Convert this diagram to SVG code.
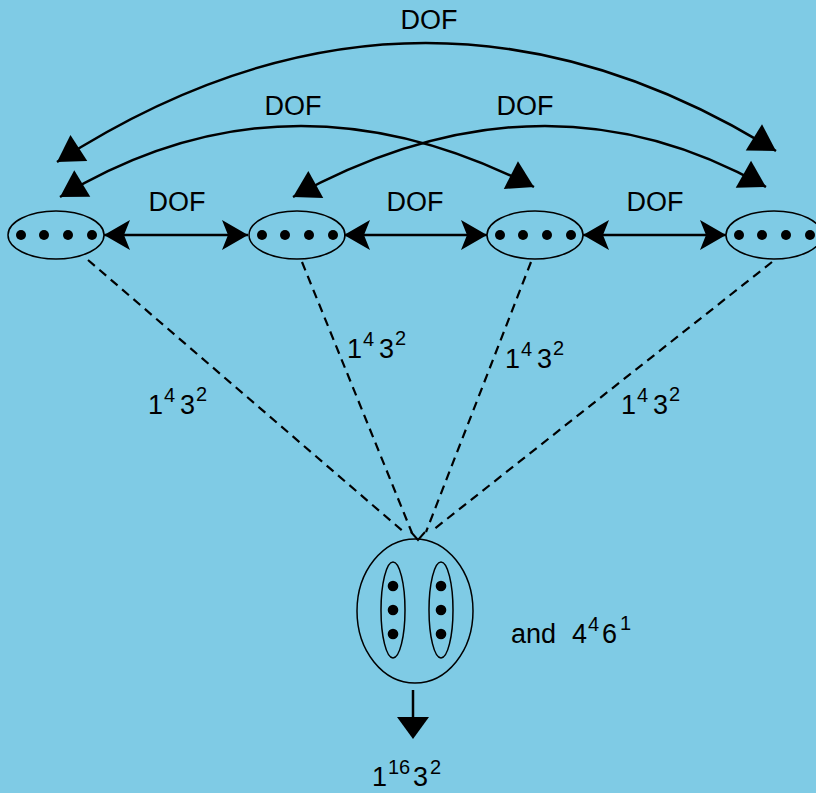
<svg xmlns="http://www.w3.org/2000/svg" width="816" height="793" viewBox="0 0 816 793">
<style>
text{font-family:"Liberation Sans",Arial,sans-serif;fill:#000;}
.lbl{font-size:27px;text-anchor:middle;}
.m{font-size:27px;}
.s{font-size:20px;}
.ell{fill:none;stroke:#000;stroke-width:1.5;}
.dot{fill:#000;}
.arc{fill:none;stroke:#000;stroke-width:2.5;marker-start:url(#tri);marker-end:url(#tri);}
.harr{fill:none;stroke:#000;stroke-width:2.5;marker-start:url(#notch);marker-end:url(#notch);}
.dash{fill:none;stroke:#000;stroke-width:2.2;stroke-dasharray:9,6;}
</style>
<defs>
<marker id="tri" markerUnits="userSpaceOnUse" viewBox="-27 -17 29 34" markerWidth="29" markerHeight="34" refX="0" refY="0" orient="auto-start-reverse">
<path d="M0,0 L-26,-15.5 L-26,15.5 Z" fill="#000"/>
</marker>
<marker id="notch" markerUnits="userSpaceOnUse" viewBox="-27 -16 29 32" markerWidth="29" markerHeight="32" refX="0" refY="0" orient="auto-start-reverse">
<path d="M0,0 L-26,-15 L-20,0 L-26,15 Z" fill="#000"/>
</marker>
</defs>
<rect x="0" y="0" width="816" height="793" fill="#7FCBE5"/>

<g id="connectors">
<path class="arc" d="M57,162 Q417.5,-70.5 776,151"/>
<path class="arc" d="M60,197 Q287,60 534,187"/>
<path class="arc" d="M293,197 Q542.5,60 766,187"/>
<path class="harr" d="M104,235 L248,235"/>
<path class="harr" d="M344,235 L487,235"/>
<path class="harr" d="M583,235 L726,235"/>
<path class="dash" d="M88,260 L405,533"/>
<path class="dash" d="M302,262 L412,533"/>
<path class="dash" d="M531,262 L426,532"/>
<path class="dash" d="M772,262 L433,530"/>
<polyline points="411,532 418,540 425,532" fill="none" stroke="#000" stroke-width="2"/>
<path d="M413,690 L413,718" stroke="#000" stroke-width="2.5" fill="none"/>
<path d="M397,717 L429,717 L413,739 Z" fill="#000"/>
</g>

<g id="labels-dof">
<text class="lbl" x="429" y="29">DOF</text>
<text class="lbl" x="293" y="115">DOF</text>
<text class="lbl" x="525" y="115">DOF</text>
<text class="lbl" x="177" y="211">DOF</text>
<text class="lbl" x="415" y="211">DOF</text>
<text class="lbl" x="655" y="211">DOF</text>
</g>

<g id="node1">
<ellipse class="ell" cx="56" cy="235" rx="48" ry="24"/>
<circle class="dot" cx="21" cy="235" r="5"/><circle class="dot" cx="44" cy="235" r="5"/><circle class="dot" cx="68" cy="235" r="5"/><circle class="dot" cx="92" cy="235" r="5"/>
</g>
<g id="node2">
<ellipse class="ell" cx="297" cy="235" rx="48" ry="24"/>
<circle class="dot" cx="262" cy="235" r="5"/><circle class="dot" cx="285" cy="235" r="5"/><circle class="dot" cx="309" cy="235" r="5"/><circle class="dot" cx="333" cy="235" r="5"/>
</g>
<g id="node3">
<ellipse class="ell" cx="535" cy="235" rx="48" ry="24"/>
<circle class="dot" cx="500" cy="235" r="5"/><circle class="dot" cx="523" cy="235" r="5"/><circle class="dot" cx="547" cy="235" r="5"/><circle class="dot" cx="571" cy="235" r="5"/>
</g>
<g id="node4">
<ellipse class="ell" cx="774" cy="235" rx="48" ry="24"/>
<circle class="dot" cx="739" cy="235" r="5"/><circle class="dot" cx="762" cy="235" r="5"/><circle class="dot" cx="786" cy="235" r="5"/><circle class="dot" cx="810" cy="235" r="5"/>
</g>

<g id="node-bottom">
<ellipse class="ell" cx="415" cy="611" rx="58" ry="72"/>
<ellipse class="ell" cx="393" cy="610" rx="12" ry="48"/>
<ellipse class="ell" cx="441" cy="610" rx="12" ry="48"/>
<circle class="dot" cx="393" cy="586" r="5.3"/><circle class="dot" cx="393" cy="610" r="5.3"/><circle class="dot" cx="393" cy="634" r="5.3"/>
<circle class="dot" cx="441" cy="586" r="5.3"/><circle class="dot" cx="441" cy="610" r="5.3"/><circle class="dot" cx="441" cy="634" r="5.3"/>
</g>

<g id="labels-14">
<text><tspan class="m" x="148" y="414">1</tspan><tspan class="s" x="164" y="402">4</tspan><tspan class="m" x="180" y="414">3</tspan><tspan class="s" x="196" y="401">2</tspan></text>
<text><tspan class="m" x="347" y="358">1</tspan><tspan class="s" x="363" y="346">4</tspan><tspan class="m" x="379" y="358">3</tspan><tspan class="s" x="395" y="345">2</tspan></text>
<text><tspan class="m" x="505" y="368">1</tspan><tspan class="s" x="521" y="356">4</tspan><tspan class="m" x="537" y="368">3</tspan><tspan class="s" x="553" y="355">2</tspan></text>
<text><tspan class="m" x="621" y="414">1</tspan><tspan class="s" x="637" y="402">4</tspan><tspan class="m" x="653" y="414">3</tspan><tspan class="s" x="669" y="401">2</tspan></text>
</g>

<g id="label-and">
<text><tspan class="m" x="511" y="643">and</tspan><tspan class="m" x="572" y="643">4</tspan><tspan class="s" x="588" y="631">4</tspan><tspan class="m" x="602" y="643">6</tspan><tspan class="s" x="620" y="630">1</tspan></text>
</g>
<g id="label-result">
<text><tspan class="m" x="372" y="786">1</tspan><tspan class="s" x="388" y="774">16</tspan><tspan class="m" x="413" y="786">3</tspan><tspan class="s" x="430" y="774">2</tspan></text>
</g>
</svg>
